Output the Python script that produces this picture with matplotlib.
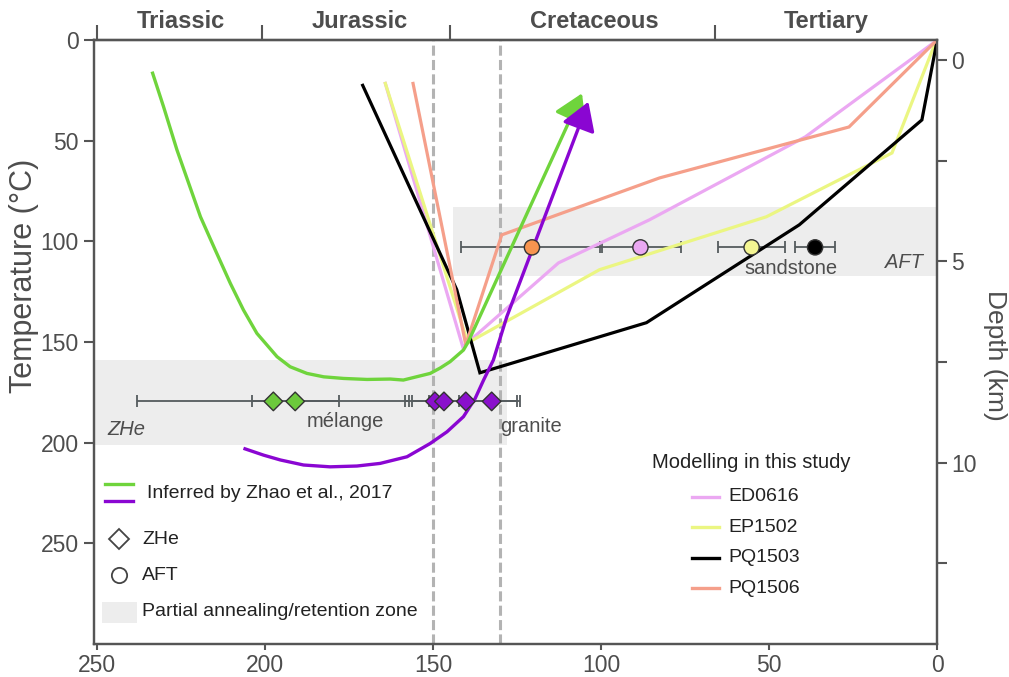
import matplotlib
matplotlib.use("Agg")
import matplotlib.pyplot as plt
from matplotlib.lines import Line2D
from matplotlib.patches import Rectangle

plt.rcParams['font.family'] = ['Liberation Sans', 'DejaVu Sans']

# ---------------------------------------------------------------- data
# geological periods (Ma)
period_names = ["Triassic", "Jurassic", "Cretaceous", "Tertiary"]
period_bounds = [250, 201, 145, 66]
period_label_age = [225, 172, 102, 33]

age_ticks = [250, 200, 150, 100, 50, 0]
temp_ticks = [0, 50, 100, 150, 200, 250]
depth_major = [0, 5, 10]
depth_minor = [2.5, 7.5, 12.5]
surface_temp = 10.0   # degC at 0 km
geotherm = 20.0       # degC per km

ref_ages = [150, 130]

# partial annealing / retention zones: age range and temperature range
aft_zone_age = [144, 0]
aft_zone_temp = [83, 117]
zhe_zone_age = [251, 128]
zhe_zone_temp = [159, 201]

# inferred paths (Zhao et al., 2017)
green_age = [233.7, 230.3, 226.3, 222.8, 219.3, 214.9, 210.4, 206.5, 202.5,
             196.5, 192.6, 187.6, 182.6, 176.7, 169.7, 162.8, 158.9, 150.9,
             147.9, 145.0, 141.0, 139.6, 105.7]
green_temp = [15.7, 33.1, 54.6, 71.2, 87.8, 104.3, 120.9, 134.1, 145.7,
              157.3, 162.3, 165.6, 167.3, 168.1, 168.6, 168.4, 168.9, 165.6,
              162.9, 159.8, 154.0, 150.0, 26.5]
purple_age = [206.5, 200.5, 195.5, 188.6, 180.7, 172.7, 165.8, 157.8, 150.9,
              145.9, 141.0, 137.5, 135.0, 132.1, 128.1, 103.8]
purple_temp = [202.8, 206.2, 208.6, 211.1, 212.0, 211.6, 210.3, 207.0, 200.4,
               194.6, 187.1, 178.0, 168.9, 159.0, 137.5, 30.7]

# thermal models of this study
model_names = ["ED0616", "EP1502", "PQ1503", "PQ1506"]
ed0616_age = [164.4, 141.2, 112.7, 85.6, 39.2, 0.3]
ed0616_temp = [20.8, 152.4, 110.7, 89.3, 48.1, 0.5]
ep1502_age = [164.4, 139.7, 100.5, 50.8, 13.4, 0.3]
ep1502_temp = [20.8, 150.4, 114.1, 87.8, 56.1, 0.5]
pq1503_age = [171.2, 143.0, 136.1, 86.5, 41.0, 4.5, 0.0]
pq1503_temp = [21.8, 124.0, 165.3, 140.4, 91.8, 39.7, 0.5]
pq1506_age = [156.1, 140.3, 129.6, 82.6, 26.2, 0.3]
pq1506_temp = [20.8, 151.4, 96.8, 68.5, 43.2, 0.5]

# AFT ages (sandstone)
aft_age = [120.6, 88.3, 55.2, 36.3]
aft_err = [21.0, 12.0, 10.0, 6.0]
aft_temp = 103

# ZHe ages (melange and granite)
zhe_age = [197.6, 191.1, 149.5, 146.8, 140.3, 132.6]
zhe_err = [40.5, 13.0, 8.9, 4.5, 16.0, 7.4]
zhe_temp = 179.5

# ---------------------------------------------------------------- style
c_green = '#6fd43c'
c_purple = '#8a06d2'
model_colors = ['#eba8f2', '#ebf682', '#000000', '#f59f8a']
aft_colors = ['#f7944f', '#eaa8f2', '#f4f592', '#000000']
zhe_colors = ['#6cc93c', '#6cc93c', '#8a10cc', '#8a10cc', '#8a10cc', '#8a10cc']
axis_c = '#555555'
text_c = '#4d4d4d'
band_c = '#ededed'

fig = plt.figure(figsize=(10.09, 6.77), dpi=100)
ax = fig.add_axes([94 / 1009, 1 - 644 / 677, 843 / 1009, 604 / 677])
ax.set_xlim(251, 0)
ax.set_ylim(300, 0)

# zones
ax.fill_between(aft_zone_age, aft_zone_temp[0], aft_zone_temp[1],
                color=band_c, lw=0, zorder=1)
ax.fill_between(zhe_zone_age, zhe_zone_temp[0], zhe_zone_temp[1],
                color=band_c, lw=0, zorder=1)

for a in ref_ages:
    ax.axvline(a, color='#b3b3b3', lw=2.2, dashes=(3.3, 1.4), zorder=1.5)

# model paths
model_ages = [ed0616_age, ep1502_age, pq1503_age, pq1506_age]
model_temps = [ed0616_temp, ep1502_temp, pq1503_temp, pq1506_temp]
for a, t, c in zip(model_ages, model_temps, model_colors):
    ax.plot(a, t, color=c, lw=2.3, solid_joinstyle='miter',
            solid_capstyle='butt', zorder=3)


def inferred_path(age, temp, color):
    ax.plot(age[:-1], temp[:-1], color=color, lw=2.4,
            solid_joinstyle='round', solid_capstyle='butt', zorder=4)
    ax.annotate("", xy=(age[-1], temp[-1]), xytext=(age[-2], temp[-2]),
                arrowprops=dict(arrowstyle="-|>,head_length=17,head_width=10.5",
                                mutation_scale=1, color=color, lw=2.4,
                                shrinkA=0, shrinkB=0),
                zorder=4)


inferred_path(green_age, green_temp, c_green)
inferred_path(purple_age, purple_temp, c_purple)

# thermochronology data
ax.errorbar(aft_age, [aft_temp] * len(aft_age), xerr=aft_err, fmt='none',
            ecolor='#555b5e', elinewidth=1.3, capsize=4.5, capthick=1.3,
            zorder=2.5)
ax.scatter(aft_age, [aft_temp] * len(aft_age), s=120, c=aft_colors,
           edgecolors='#333333', linewidths=1.0, zorder=6)
ax.errorbar(zhe_age, [zhe_temp] * len(zhe_age), xerr=zhe_err, fmt='none',
            ecolor='#555b5e', elinewidth=1.3, capsize=4.5, capthick=1.3,
            zorder=2.5)
ax.scatter(zhe_age, [zhe_temp] * len(zhe_age), s=90, marker='D',
           c=zhe_colors, edgecolors='#333333', linewidths=1.0, zorder=6)

# annotations
lab = dict(fontsize=14.5, color=text_c, zorder=7)
ax.text(247, 193.7, "ZHe", ha='left', va='center', style='italic', **lab)
ax.text(176.2, 192.4, "mélange", ha='center', va='baseline', **lab)
ax.text(130.1, 194.6, "granite", ha='left', va='baseline', **lab)
ax.text(43.5, 116.2, "sandstone", ha='center', va='baseline', **lab)
ax.text(15.5, 113.4, "AFT", ha='left', va='baseline', style='italic', **lab)

# axes styling
for s in ax.spines.values():
    s.set_color(axis_c)
    s.set_linewidth(1.6)
ax.set_xticks(age_ticks)
ax.set_yticks(temp_ticks)
ax.tick_params(axis='both', colors=axis_c, labelcolor=text_c,
               labelsize=16.5, width=1.5)
ax.tick_params(axis='y', length=7, pad=4)
ax.tick_params(axis='x', length=4, pad=3)

top = ax.secondary_xaxis('top')
top.set_xticks(period_bounds)
top.tick_params(length=11, width=1.5, colors=axis_c, labeltop=False)
top.spines['top'].set_color(axis_c)
top.spines['top'].set_linewidth(1.6)
for name, a in zip(period_names, period_label_age):
    ax.text(a, 1.03, name, transform=ax.get_xaxis_transform(),
            ha='center', va='center', fontsize=17, fontweight='bold',
            color=text_c)

ax2 = ax.twinx()
ax2.set_ylim((300 - surface_temp) / geotherm, (0 - surface_temp) / geotherm)
ax2.set_yticks(depth_major)
ax2.set_yticks(depth_minor, minor=True)
ax2.tick_params(axis='y', which='both', length=7, width=1.5, colors=axis_c,
                labelcolor=text_c, labelsize=16.5, pad=3)
for s in ax2.spines.values():
    s.set_color(axis_c)
    s.set_linewidth(1.6)

ax.text(-0.083, 0.61, "Temperature (°C)", transform=ax.transAxes,
        rotation=90, ha='center', va='center', fontsize=22, color=text_c)
ax.text(1.069, 0.4785, "Depth (km)", transform=ax.transAxes,
        rotation=-90, ha='center', va='center', fontsize=19, color=text_c)

# left legend
tr = ax.transAxes
leg_txt = dict(fontsize=14, color='#222222', va='center', ha='left',
               transform=tr)
ax.add_line(Line2D([0.013, 0.046], [0.2649, 0.2649], color=c_green, lw=2.4,
                   transform=tr))
ax.add_line(Line2D([0.013, 0.046], [0.2368, 0.2368], color=c_purple, lw=2.4,
                   transform=tr))
ax.text(0.0629, 0.25, "Inferred by Zhao et al., 2017", **leg_txt)
ax.add_line(Line2D([0.0297], [0.1738], marker='D', ms=10, mfc='white',
                   mec='#444444', mew=1.3, transform=tr))
ax.text(0.057, 0.1738, "ZHe", **leg_txt)
ax.add_line(Line2D([0.0297], [0.1142], marker='o', ms=11, mfc='white',
                   mec='#444444', mew=1.3, transform=tr))
ax.text(0.057, 0.1142, "AFT", **leg_txt)
ax.add_patch(Rectangle((0.0091, 0.0343), 0.0415, 0.0357, color=band_c,
                       lw=0, transform=tr))
ax.text(0.057, 0.0535, "Partial annealing/retention zone", **leg_txt)

# right legend
ax.text(0.7794, 0.3013, "Modelling in this study", fontsize=14.5,
        color='#222222', ha='center', va='center', transform=tr)
for name, c, y in zip(model_names, model_colors,
                      [0.2439, 0.1937, 0.1424, 0.0927]):
    ax.add_line(Line2D([0.7094, 0.7414], [y, y], color=c, lw=2.4,
                       transform=tr))
    ax.text(0.7521, y, name, **leg_txt)

fig.savefig("out.png", dpi=100)
